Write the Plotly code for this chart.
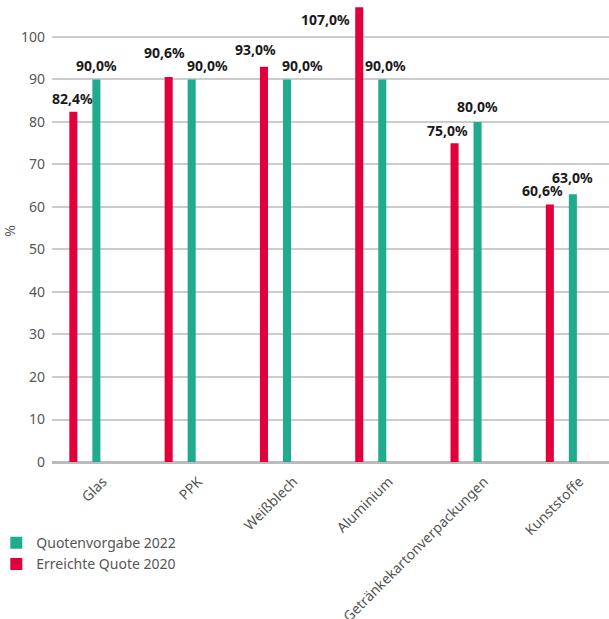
import plotly.graph_objects as go

# Verwertungsquoten je Material
categories = ["Glas", "PPK", "Weißblech", "Aluminium",
              "Getränkekartonverpackungen", "Kunststoffe"]
erreicht_2020 = [82.4, 90.6, 93.0, 107.0, 75.0, 60.6]
vorgabe_2022 = [90.0, 90.0, 90.0, 90.0, 80.0, 63.0]
y_ticks = [0, 10, 20, 30, 40, 50, 60, 70, 80, 90, 100]

RED = "#E2003C"
GREEN = "#20AA8E"
FONT = "Noto Sans"

# label placement (pixel offsets from the top of each bar)
red_dx = [-1, -4, -8, -34, -7, -7]
red_dy = [2, 13, 6, -24, 1, 2]
green_dx = [0, 16, 16, 3, 0, 0]
green_dy = [2, 2, 2, 2, 4, 5]
BAR_OFF = 11.5


def fmt(v):
    return f"{v:.1f}".replace(".", ",") + "%"


fig = go.Figure()
fig.add_trace(go.Bar(x=categories, y=erreicht_2020, name="Erreichte Quote 2020",
                     marker=dict(color=RED, line=dict(width=0))))
fig.add_trace(go.Bar(x=categories, y=vorgabe_2022, name="Quotenvorgabe 2022",
                     marker=dict(color=GREEN, line=dict(width=0))))

annotations = []
for i, c in enumerate(categories):
    annotations.append(dict(x=c, y=erreicht_2020[i], xref="x", yref="y",
                            text=fmt(erreicht_2020[i]), showarrow=False,
                            xanchor="center", yanchor="bottom",
                            xshift=-BAR_OFF + red_dx[i], yshift=red_dy[i],
                            font=dict(family=FONT, size=14, color="#1a1a1a", weight="bold")))
    annotations.append(dict(x=c, y=vorgabe_2022[i], xref="x", yref="y",
                            text=fmt(vorgabe_2022[i]), showarrow=False,
                            xanchor="center", yanchor="bottom",
                            xshift=BAR_OFF + green_dx[i], yshift=green_dy[i],
                            font=dict(family=FONT, size=14, color="#1a1a1a", weight="bold")))

fig.update_layout(
    width=609, height=619,
    margin=dict(l=52, r=0, t=0, b=157, autoexpand=False),
    paper_bgcolor="white", plot_bgcolor="white",
    barmode="group", bargap=0.517, bargroupgap=0.65,
    font=dict(family=FONT, size=14, color="#555555"),
    showlegend=True,
    legend=dict(traceorder="reversed", orientation="v",
                x=-0.1, xanchor="left", y=-0.141, yanchor="top",
                font=dict(family=FONT, size=14, color="#555555"),
                itemwidth=30, tracegroupgap=0, bgcolor="rgba(0,0,0,0)"),
    annotations=annotations,
    xaxis=dict(type="category", range=[-0.345, 5.5],
               showgrid=False, showline=True, linecolor="#bbbbbb", linewidth=2,
               ticks="", tickangle=-45, ticklabelshift=18, ticklabelstandoff=4,
               tickfont=dict(family=FONT, size=14, color="#555555"),
               automargin=False, fixedrange=True),
    yaxis=dict(range=[0, 108.7], tickvals=y_ticks, ticktext=[str(t) for t in y_ticks],
               showgrid=True, gridcolor="#cccccc", gridwidth=2,
               zeroline=True, zerolinecolor="#bbbbbb", zerolinewidth=2,
               showline=False, ticks="", ticklabelstandoff=6,
               tickfont=dict(family=FONT, size=14, color="#555555"),
               title=dict(text="%", standoff=10, font=dict(family=FONT, size=14, color="#555555")),
               automargin=False, fixedrange=True),
)

fig.write_html("out.html")
